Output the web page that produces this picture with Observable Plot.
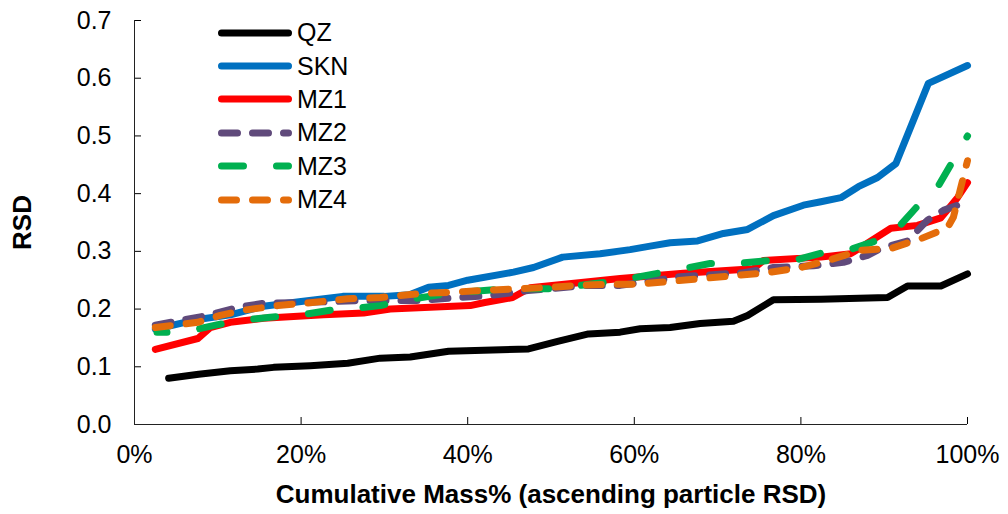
<!DOCTYPE html>
<html>
<head>
<meta charset="utf-8">
<script src="https://cdn.jsdelivr.net/npm/d3@7"></script>
<script src="https://cdn.jsdelivr.net/npm/@observablehq/plot@0.6"></script>
<style>
  body { margin: 0; background: #fff; }
  #chart { position: relative; width: 1008px; height: 514px; font-family: "Liberation Sans", Arial, sans-serif; }
  #legend { position: absolute; left: 218px; top: 16px; }
  .row { display: flex; align-items: center; height: 33.4px; }
  .row svg { display: block; }
  .row span { font-size: 25px; margin-left: 5px; color: #000; line-height: 1; }
</style>
</head>
<body>
<div id="chart"><div id="legend"></div></div>
<script>
// Cumulative mass % (particles sorted by ascending RSD) and the RSD reached there
const seriesNames = ["QZ", "SKN", "MZ1", "MZ2", "MZ3", "MZ4"];

const qzMass = [4.1, 7.7, 11.5, 14.8, 16.7, 21.1, 25.6, 29.5, 33.1, 37.7, 47.3, 50.8, 54.5, 58.3, 60.7, 64.3, 67.9, 71.9, 73.6, 76.7, 82.4, 90.4, 92.8, 96.8, 100];
const qzRSD  = [0.080, 0.087, 0.093, 0.096, 0.099, 0.102, 0.106, 0.115, 0.117, 0.127, 0.131, 0.144, 0.157, 0.160, 0.166, 0.168, 0.175, 0.179, 0.189, 0.216, 0.217, 0.220, 0.240, 0.240, 0.261];

const sknMass = [2.5, 7.6, 11.5, 15.5, 20, 25, 30, 33, 35.3, 37.7, 40, 45.5, 47.9, 51.4, 55.9, 59.5, 61.9, 64.3, 67.6, 70.7, 73.6, 76.7, 80.3, 82.4, 84.8, 86.9, 89.2, 91.4, 95.3, 100];
const sknRSD  = [0.165, 0.182, 0.190, 0.205, 0.213, 0.222, 0.222, 0.225, 0.238, 0.241, 0.250, 0.264, 0.272, 0.290, 0.296, 0.303, 0.309, 0.315, 0.318, 0.331, 0.338, 0.362, 0.380, 0.386, 0.393, 0.412, 0.428, 0.452, 0.591, 0.622];

const mz1Mass = [2.5, 7.6, 9.1, 11.5, 15.5, 22.7, 27.5, 30.7, 40.3, 41.9, 45.4, 47.5, 58.3, 65.9, 74.3, 75.5, 82.4, 86, 90.8, 94, 96.8, 98.8, 100];
const mz1RSD  = [0.130, 0.149, 0.168, 0.177, 0.184, 0.190, 0.193, 0.200, 0.206, 0.211, 0.220, 0.237, 0.253, 0.262, 0.270, 0.284, 0.290, 0.296, 0.340, 0.345, 0.358, 0.393, 0.419];

const mz2Mass = [2.5, 8.8, 12.4, 15.5, 19.6, 27.5, 34.3, 38.8, 42.4, 47.2, 54.4, 58.3, 65.5, 73.1, 76.7, 81.5, 85.1, 88, 89.6, 92.8, 95.2, 97.1, 98.8, 100];
const mz2RSD  = [0.172, 0.189, 0.203, 0.210, 0.211, 0.215, 0.215, 0.220, 0.223, 0.232, 0.241, 0.241, 0.256, 0.263, 0.272, 0.275, 0.281, 0.293, 0.305, 0.318, 0.354, 0.371, 0.380, 0.390];

const mz3Mass = [2.7, 5.9, 10, 12.7, 16.3, 19.6, 24.4, 25.9, 29.5, 32.3, 37.6, 44.3, 50.3, 58.3, 62.8, 65.9, 69.1, 72.4, 76, 79.1, 82.7, 85.7, 89.2, 91.6, 94.1, 96.4, 98.3, 100];
const mz3RSD  = [0.160, 0.160, 0.173, 0.180, 0.186, 0.189, 0.200, 0.200, 0.206, 0.215, 0.227, 0.235, 0.235, 0.250, 0.262, 0.270, 0.279, 0.279, 0.284, 0.284, 0.298, 0.302, 0.319, 0.340, 0.380, 0.411, 0.458, 0.500];

const mz4Mass = [2.5, 7.6, 10.3, 13.1, 17.2, 21.1, 25.6, 29.5, 34.3, 37.9, 41.5, 45.5, 49.1, 53.2, 57.1, 60.4, 64.3, 68.3, 71.9, 76, 80, 83.2, 87.2, 90.8, 94.4, 97.6, 98.3, 99.2, 100];
const mz4RSD  = [0.168, 0.177, 0.189, 0.198, 0.206, 0.211, 0.218, 0.220, 0.227, 0.229, 0.232, 0.235, 0.237, 0.241, 0.243, 0.243, 0.248, 0.253, 0.258, 0.263, 0.272, 0.284, 0.302, 0.305, 0.322, 0.341, 0.359, 0.411, 0.457];

const xTicks = [0, 20, 40, 60, 80, 100];
const yTicks = [0, 0.1, 0.2, 0.3, 0.4, 0.5, 0.6, 0.7];
const xTitle = "Cumulative Mass% (ascending particle RSD)";
const yTitle = "RSD";

// Long-format table built from the arrays above
const columns = {
  QZ: [qzMass, qzRSD], SKN: [sknMass, sknRSD], MZ1: [mz1Mass, mz1RSD],
  MZ2: [mz2Mass, mz2RSD], MZ3: [mz3Mass, mz3RSD], MZ4: [mz4Mass, mz4RSD]
};
const rows = seriesNames.flatMap(name => {
  const [m, r] = columns[name];
  return m.map((mass, i) => ({series: name, mass, rsd: r[i]}));
});

// Line styling per series
const lineStyle = {
  QZ:  {stroke: "#000000", dash: null, offset: 0},
  SKN: {stroke: "#0070C0", dash: null, offset: 0},
  MZ1: {stroke: "#FF0000", dash: null, offset: 0},
  MZ2: {stroke: "#604A7B", dash: "16 15", offset: 0},
  MZ3: {stroke: "#00B050", dash: "22 33", offset: 12},
  MZ4: {stroke: "#E46C0A", dash: "15 16", offset: 0}
};
const lineWidth = 7;
const font = "'Liberation Sans', Arial, sans-serif";

const lines = seriesNames.map(name => Plot.line(rows.filter(d => d.series === name), {
  x: "mass", y: "rsd",
  stroke: lineStyle[name].stroke,
  strokeWidth: lineWidth,
  strokeDasharray: lineStyle[name].dash,
  strokeDashoffset: lineStyle[name].offset,
  strokeLinecap: "round",
  strokeLinejoin: "round"
}));

const chart = Plot.plot({
  width: 1008,
  height: 514,
  marginLeft: 134,
  marginRight: 41,
  marginTop: 20,
  marginBottom: 90,
  style: {fontFamily: font, fontSize: "25px", color: "#000", background: "#fff", overflow: "visible"},
  x: {domain: [0, 100]},
  y: {domain: [0, 0.7]},
  marks: [
    Plot.axisX({ticks: xTicks, tickFormat: d => d + "%", tickSize: -7, tickPadding: 28, label: null}),
    Plot.axisY({ticks: yTicks, tickFormat: d => d.toFixed(1), tickSize: -7, tickPadding: 30, label: null}),
    Plot.ruleX([0], {stroke: "#222", strokeWidth: 1}),
    Plot.ruleY([0], {stroke: "#222", strokeWidth: 1}),
    ...lines,
    Plot.text([xTitle], {text: d => d, frameAnchor: "bottom", lineAnchor: "middle", textAnchor: "middle", dy: 70, fontSize: 26, fontWeight: "bold", fill: "#000"}),
    Plot.text([yTitle], {text: d => d, frameAnchor: "left", lineAnchor: "middle", textAnchor: "middle", dx: -112, rotate: -90, fontSize: 26, fontWeight: "bold", fill: "#000"})
  ]
});

const host = document.getElementById("chart");
host.insertBefore(chart, host.firstChild);

// Legend in the upper-left corner of the plot area
const legend = d3.select("#legend");
seriesNames.forEach(name => {
  const row = legend.append("div").attr("class", "row");
  const sw = row.append("svg").attr("width", 74).attr("height", 10);
  sw.append("line")
    .attr("x1", 3.5).attr("x2", 70.5).attr("y1", 5).attr("y2", 5)
    .attr("stroke", lineStyle[name].stroke)
    .attr("stroke-width", lineWidth)
    .attr("stroke-linecap", "round")
    .attr("stroke-dasharray", lineStyle[name].dash);
  row.append("span").text(name);
});
</script>
</body>
</html>
